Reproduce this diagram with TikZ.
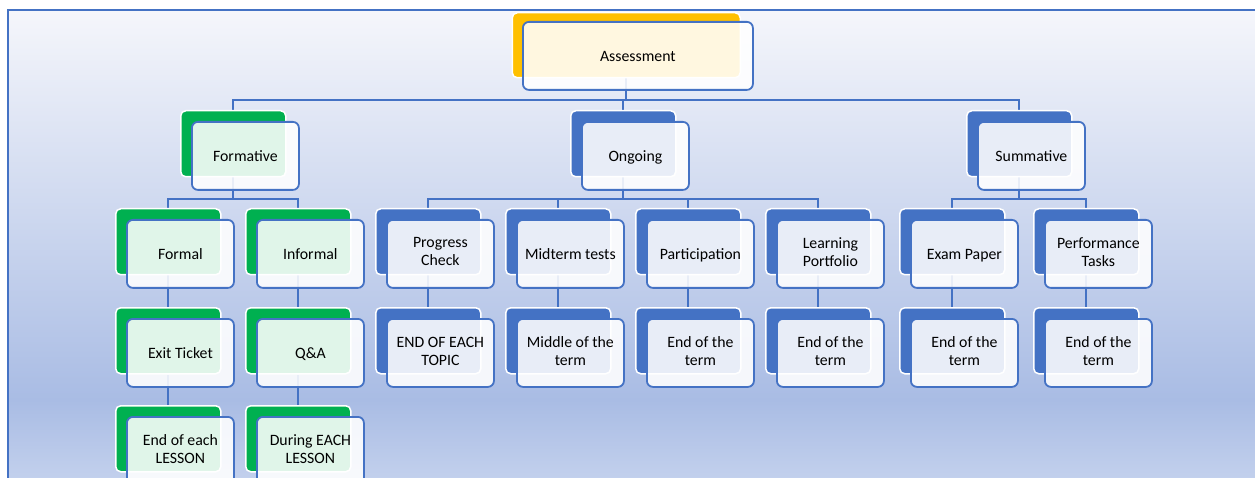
\documentclass[tikz,border=0pt]{standalone}
\usepackage{fontspec}
\setmainfont{Carlito}
\usetikzlibrary{calc}
\definecolor{accblue}{HTML}{4472C4}
\definecolor{accgreen}{HTML}{00B050}
\definecolor{accgold}{HTML}{FFC000}
\definecolor{bgtop}{HTML}{F5F6FB}
\definecolor{bgmid}{HTML}{A9BCE4}
\definecolor{bgbot}{HTML}{C6D3EE}
\pgfdeclarelayer{backlayer}
\pgfdeclarelayer{linelayer}
\pgfsetlayers{backlayer,linelayer,main}
\tikzset{
  backbox/.style={draw=white, line width=1.5pt, rounded corners=5pt, minimum width=105pt, minimum height=66pt, anchor=north west, inner sep=0pt},
  frontbox/.style={draw=accblue, line width=1.8pt, fill=white, fill opacity=0.88, text opacity=1, rounded corners=6pt, minimum width=107pt, minimum height=68pt, anchor=north west, inner sep=0pt, align=center, font=\fontsize{15.8}{18}\selectfont, text=black, execute at begin node={\rule{0pt}{15.2pt}}, execute at end node={\rule[-4pt]{0pt}{4pt}}},
  conn/.style={draw=accblue, line width=1.8pt},
}
\newcommand{\mkunit}[5]{%
  \node[backbox, fill=#4] (#1-b) at (#2,#3) {};
  \node[frontbox] (#1-f) at (#2+11,#3+11) {#5};
}
\newcommand{\mklink}[2]{%
  \coordinate (#1#2-m) at ($(#1-f.south)!.5!(#2-b.north)$);
  \draw[conn] (#1-b.south) -- (#1-b.south |- #1#2-m) -| (#2-b.north);
}
\begin{document}
\begin{tikzpicture}[x=1pt,y=-1pt]
\clip (0,0) rectangle (1255,478);
\useasboundingbox (0,0) rectangle (1255,478);
\begin{pgfonlayer}{backlayer}
  \fill[white] (0,0) rectangle (1255,478);
  \fill[top color=bgtop, bottom color=bgmid] (7.5,10.5) rectangle (1265,400.5);
  \fill[top color=bgmid, bottom color=bgbot] (7.5,400) rectangle (1265,490);
  \draw[accblue, line width=2pt] (7.5,10.5) rectangle (1265,495);
\end{pgfonlayer}
% level 0
\node[backbox, fill=accgold, minimum width=228pt, minimum height=65pt] (as-b) at (511.5,12) {};
\node[frontbox, minimum width=230pt, minimum height=68pt] (as-f) at (522,21) {Assessment};
% level 1
\mkunit{fo}{180}{110}{accgreen}{Formative}
\mkunit{on}{570}{110}{accblue}{Ongoing}
\mkunit{su}{966}{110}{accblue}{Summative}
% level 2
\mkunit{fm}{115}{208}{accgreen}{Formal}
\mkunit{in}{245}{208}{accgreen}{Informal}
\mkunit{pc}{375}{208}{accblue}{Progress\\Check}
\mkunit{mt}{505}{208}{accblue}{Midterm tests}
\mkunit{pa}{635}{208}{accblue}{Participation}
\mkunit{lp}{765}{208}{accblue}{Learning\\Portfolio}
\mkunit{ep}{899}{208}{accblue}{Exam Paper}
\mkunit{pt}{1033}{208}{accblue}{Performance\\Tasks}
% level 3
\mkunit{et}{115}{307}{accgreen}{Exit Ticket}
\mkunit{qa}{245}{307}{accgreen}{Q\&A}
\mkunit{pc3}{375}{307}{accblue}{END OF EACH\\TOPIC}
\mkunit{mt3}{505}{307}{accblue}{Middle of the\\term}
\mkunit{pa3}{635}{307}{accblue}{End of the\\term}
\mkunit{lp3}{765}{307}{accblue}{End of the\\term}
\mkunit{ep3}{899}{307}{accblue}{End of the\\term}
\mkunit{pt3}{1033}{307}{accblue}{End of the\\term}
% level 4
\mkunit{el}{115}{405}{accgreen}{End of each\\LESSON}
\mkunit{dl}{245}{405}{accgreen}{During EACH\\LESSON}
\begin{pgfonlayer}{linelayer}
  \mklink{as}{fo}\mklink{as}{on}\mklink{as}{su}
  \mklink{fo}{fm}\mklink{fo}{in}
  \mklink{on}{pc}\mklink{on}{mt}\mklink{on}{pa}\mklink{on}{lp}
  \mklink{su}{ep}\mklink{su}{pt}
  \mklink{fm}{et}\mklink{in}{qa}
  \mklink{pc}{pc3}\mklink{mt}{mt3}\mklink{pa}{pa3}\mklink{lp}{lp3}
  \mklink{ep}{ep3}\mklink{pt}{pt3}
  \mklink{et}{el}\mklink{qa}{dl}
\end{pgfonlayer}
\end{tikzpicture}
\end{document}
